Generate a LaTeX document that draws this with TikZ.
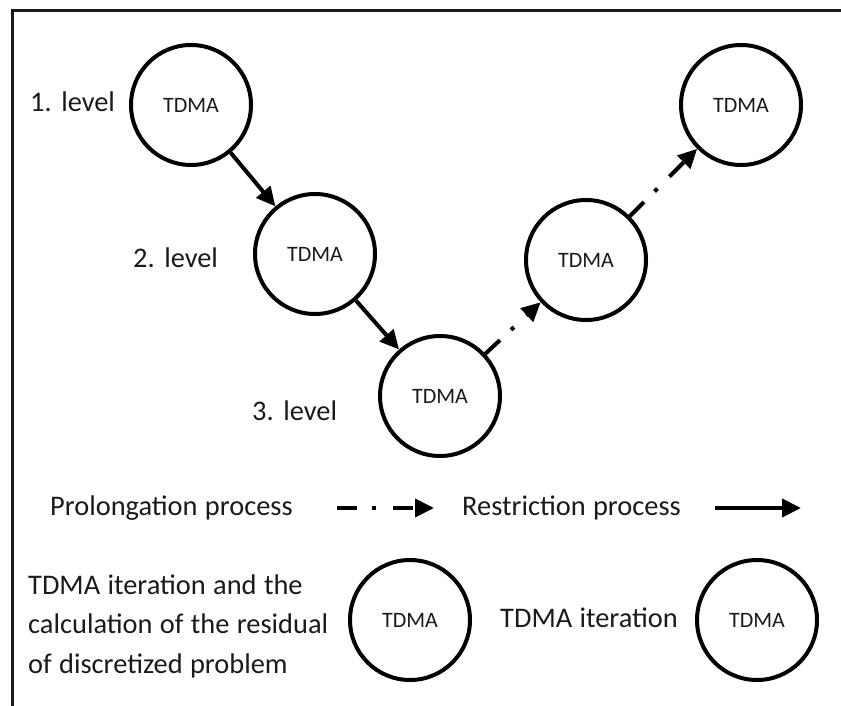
\documentclass[tikz,border=0pt]{standalone}
\usepackage{fontspec}
\setmainfont{Carlito}[WordSpace=1.15]
\usetikzlibrary{arrows.meta}
\definecolor{ink}{HTML}{1A1A1A}
\tikzset{
  tdma/.style={circle, draw=black, line width=4pt, minimum size=120pt, inner sep=0pt,
    font=\fontsize{22}{26}\selectfont, text=ink},
  lbl/.style={anchor=base west, inner sep=0pt, font=\fontsize{28.4}{39.5}\selectfont, text=ink},
  solidarrow/.style={line width=4pt, -{Triangle[length=19pt,width=18pt]}},
  dasharrow/.style={line width=4pt, dash pattern=on 20pt off 15pt on 4pt off 17pt, -{Triangle[length=19pt,width=18pt]}}
}
\begin{document}
\begin{tikzpicture}[x=1pt,y=-1pt]
\useasboundingbox (0,0) rectangle (841,706);
% frame
\draw[line width=3pt, color=ink] (12,706) -- (12,11) -- (841,11);
% main circles
\node[tdma] (c1) at (191,105) {TDMA};
\node[tdma] (c2) at (315,254) {TDMA};
\node[tdma] (c3) at (440,396) {TDMA};
\node[tdma] (c4) at (586,260) {TDMA};
\node[tdma] (c5) at (741,105) {TDMA};
% level labels
\node[lbl] (t1) at (30,112) {1. level};
\node[lbl] (t2) at (133,267) {2. level};
\node[lbl] (t3) at (252,420) {3. level};
% connectors
\draw[solidarrow] (c1) -- (c2);
\draw[solidarrow] (c2) -- (c3);
\draw[dasharrow] (c3) -- (c4);
\draw[dasharrow] (c4) -- (c5);
% legend
\node[lbl] (pp) at (50,515) {Prolongation process};
\coordinate (pa) at (337,508);
\coordinate (pb) at (434,508);
\draw[dasharrow] (pa) -- (pb);
\node[lbl] (rp) at (462,515) {Restriction process};
\coordinate (ra) at (715,508);
\coordinate (rb) at (801,508);
\draw[solidarrow] (ra) -- (rb);
\node[lbl, align=left] (lt1) at (28,673) {TDMA iteration and the\\calculation of the residual\\of discretized problem};
\node[tdma] (l1) at (410,620) {TDMA};
\node[lbl] (lt2) at (500,627) {TDMA iteration};
\node[tdma] (l2) at (757,620) {TDMA};
\end{tikzpicture}
\end{document}
